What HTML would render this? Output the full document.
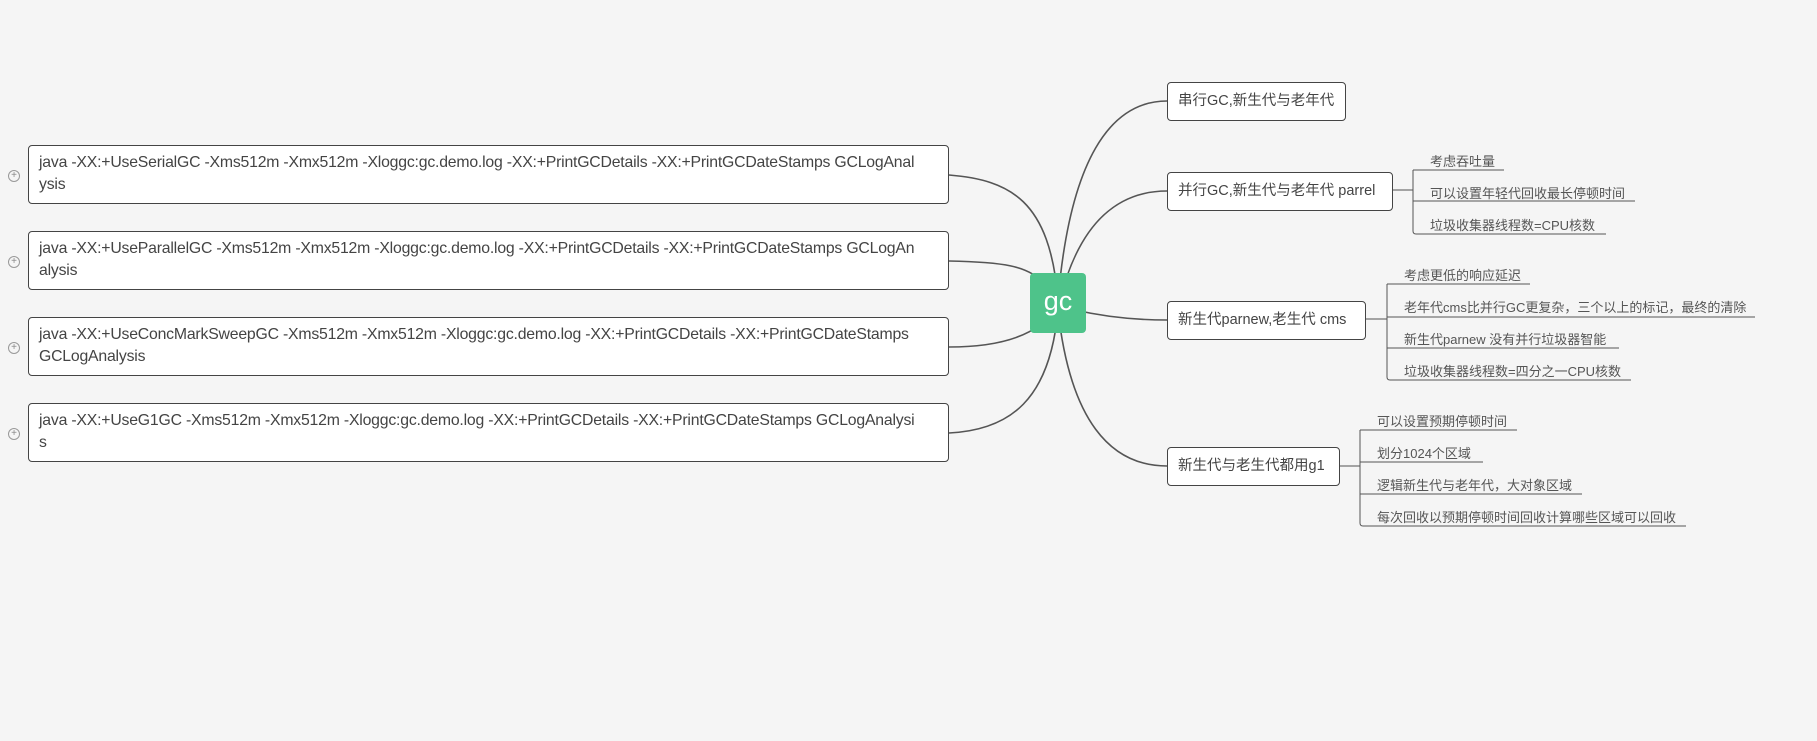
<!DOCTYPE html>
<html><head><meta charset="utf-8"><style>
body{margin:0;width:1817px;height:741px;background:#f5f5f5;position:relative;overflow:hidden;font-family:"Liberation Sans","Noto Sans CJK SC",sans-serif;color:#444}
.b{position:absolute;background:#fff;border:1px solid #444;border-radius:4px;box-sizing:border-box;white-space:nowrap}
.l{left:28px;width:921px;height:59px;padding:6px 0 0 10px;font-size:15.8px;line-height:22px;letter-spacing:-0.2px}
.r{left:1167px;height:39px;padding:0 10px;font-size:14.5px;line-height:37px}
.t{position:absolute;font-size:13px;color:#555;white-space:nowrap}
.p{position:absolute;left:8px;width:10px;height:10px;border:1px solid #999;border-radius:50%;font-size:10px;line-height:10px;text-align:center;color:#888}
</style></head><body>
<svg width="1817" height="741" style="position:absolute;left:0;top:0">
<g fill="none" stroke="#555" stroke-width="1.6">
<path d="M1058 300 C1050 200 1010 180 949 175"/>
<path d="M1045 285 C1030 265 1000 262 949 261"/>
<path d="M1040 325 C1020 340 990 347 949 347"/>
<path d="M1058 310 C1050 400 1010 430 949 433"/>
<path d="M1058 300 C1070 160 1110 101 1167 101"/>
<path d="M1060 300 C1080 220 1120 191 1167 191"/>
<path d="M1075 310 C1110 318 1140 320 1167 320"/>
<path d="M1058 310 C1070 420 1110 466 1167 466"/>
</g>
<g fill="none" stroke="#888" stroke-width="1.5">
<path d="M1393 190 H1413"/><path d="M1366 319 H1387"/><path d="M1340 466 H1360"/>
</g>
<g fill="none" stroke="#555" stroke-width="1">
<path d="M1413 170 V231 Q1413 234 1416 234 H1606"/><path d="M1413 170 H1504 M1413 201 H1635"/>
<path d="M1387 284 V377 Q1387 380 1390 380 H1631"/><path d="M1387 284 H1530 M1387 317 H1755 M1387 348 H1619"/>
<path d="M1360 430 V523 Q1360 526 1363 526 H1686"/><path d="M1360 430 H1517 M1360 462 H1483 M1360 494 H1582"/>
</g>
</svg>
<div class="p" style="top:170px">+</div><div class="p" style="top:256px">+</div><div class="p" style="top:342px">+</div><div class="p" style="top:428px">+</div>
<div class="b l" style="top:145px">java -XX:+UseSerialGC -Xms512m -Xmx512m -Xloggc:gc.demo.log -XX:+PrintGCDetails -XX:+PrintGCDateStamps GCLogAnal<br>ysis</div>
<div class="b l" style="top:231px">java -XX:+UseParallelGC -Xms512m -Xmx512m -Xloggc:gc.demo.log -XX:+PrintGCDetails -XX:+PrintGCDateStamps GCLogAn<br>alysis</div>
<div class="b l" style="top:317px">java -XX:+UseConcMarkSweepGC -Xms512m -Xmx512m -Xloggc:gc.demo.log -XX:+PrintGCDetails -XX:+PrintGCDateStamps<br>GCLogAnalysis</div>
<div class="b l" style="top:403px">java -XX:+UseG1GC -Xms512m -Xmx512m -Xloggc:gc.demo.log -XX:+PrintGCDetails -XX:+PrintGCDateStamps GCLogAnalysi<br>s</div>
<div style="position:absolute;left:1030px;top:273px;width:56px;height:60px;background:#4ec38a;border-radius:4px;color:#fff;font-size:27px;line-height:56px;text-align:center">gc</div>
<div class="b r" style="top:82px;width:179px">串行GC,新生代与老年代</div>
<div class="b r" style="top:172px;width:226px">并行GC,新生代与老年代 parrel</div>
<div class="b r" style="top:301px;width:199px">新生代parnew,老生代 cms</div>
<div class="b r" style="top:447px;width:173px">新生代与老生代都用g1</div>
<div class="t" style="left:1430px;top:151px">考虑吞吐量</div>
<div class="t" style="left:1430px;top:183px">可以设置年轻代回收最长停顿时间</div>
<div class="t" style="left:1430px;top:215px">垃圾收集器线程数=CPU核数</div>
<div class="t" style="left:1404px;top:265px">考虑更低的响应延迟</div>
<div class="t" style="left:1404px;top:297px">老年代cms比并行GC更复杂，三个以上的标记，最终的清除</div>
<div class="t" style="left:1404px;top:329px">新生代parnew 没有并行垃圾器智能</div>
<div class="t" style="left:1404px;top:361px">垃圾收集器线程数=四分之一CPU核数</div>
<div class="t" style="left:1377px;top:411px">可以设置预期停顿时间</div>
<div class="t" style="left:1377px;top:443px">划分1024个区域</div>
<div class="t" style="left:1377px;top:475px">逻辑新生代与老年代，大对象区域</div>
<div class="t" style="left:1377px;top:507px">每次回收以预期停顿时间回收计算哪些区域可以回收</div>
</body></html>
